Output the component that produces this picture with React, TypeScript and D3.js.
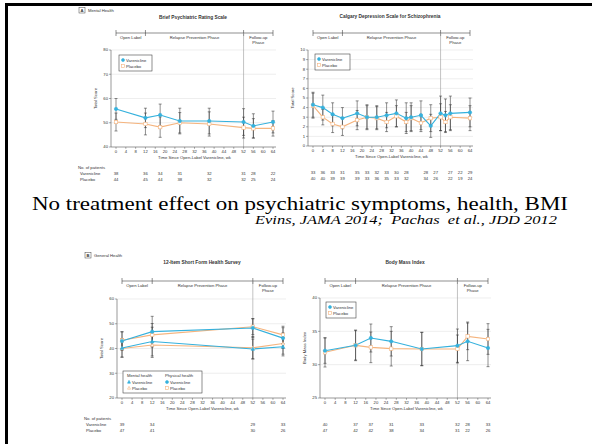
import * as d3 from "d3";

// ---- shared
const weekTicks = [0, 4, 8, 12, 16, 20, 24, 28, 32, 36, 40, 44, 48, 52, 56, 60, 64];
const phaseBounds = [0, 12, 52, 64];
const BLUE = "#35b1dd";
const ORANGE = "#f5b47e";
const FONT = "Liberation Sans, Arial, sans-serif";
const SERIF = "'Liberation Serif', 'Times New Roman', Times, 'DejaVu Serif', serif";

// ---- A: Brief Psychiatric Rating Scale
const bprsWeeks = [0, 12, 18, 26, 38, 52, 56, 64];
const bprsVar = [55.7, 52.0, 53.2, 50.7, 50.7, 50.3, 48.7, 50.3];
const bprsVarErr = [4.3, 4.0, 4.5, 5.3, 5.3, 5.5, 5.0, 4.5];
const bprsPla = [50.3, 49.5, 48.2, 50.0, 49.5, 48.0, 47.7, 47.7];
const bprsPlaErr = [3.7, 4.5, 4.2, 4.2, 5.0, 4.3, 4.0, 3.2];
const bprsNVar = [38, 36, 34, 31, 32, 31, 28, 22];
const bprsNPla = [44, 45, 44, 38, 32, 32, 25, 24];

// ---- Calgary Depression Scale for Schizophrenia
const cdssWeeks = [0, 4, 8, 12, 18, 22, 26, 30, 34, 38, 40, 44, 48, 52, 54, 56, 64];
const cdssVar = [4.3, 4.0, 3.3, 2.9, 3.4, 3.0, 3.0, 3.2, 3.4, 2.9, 3.0, 3.2, 2.1, 3.4, 3.2, 3.4, 3.5];
const cdssVarErr = [1.3, 1.3, 1.2, 1.1, 1.3, 1.3, 1.2, 1.3, 1.4, 1.6, 1.5, 1.5, 1.2, 1.8, 1.7, 1.8, 1.5];
const cdssPla = [4.2, 3.0, 2.3, 2.0, 2.7, 3.0, 2.9, 2.5, 3.1, 2.5, 2.9, 2.4, 2.9, 3.0, 2.5, 3.0, 2.9];
const cdssPlaErr = [1.3, 0.8, 0.9, 0.9, 1.0, 1.2, 1.2, 1.0, 1.1, 1.0, 1.3, 0.9, 1.4, 1.4, 1.1, 1.3, 1.3];
const cdssCountWeeks = [0, 4, 8, 12, 18, 22, 26, 30, 34, 38, 46, 50, 56, 60, 64];
const cdssNVar = [33, 36, 33, 31, 35, 33, 32, 33, 30, 28, 28, 27, 27, 22, 29];
const cdssNPla = [40, 40, 39, 39, 39, 33, 36, 35, 33, 32, 34, 26, 22, 19, 24];

// ---- B: 12-Item Short Form Health Survey
const sfWeeks = [0, 12, 52, 64];
const sfMentalVar = [40.2, 42.8, 39.8, 40.7];
const sfMentalVarErr = [3.7, 5.8, 4.0, 3.7];
const sfMentalPla = [40.0, 41.4, 40.3, 42.0];
const sfMentalPlaErr = [3.5, 5.0, 4.5, 4.3];
const sfPhysVar = [43.0, 46.8, 48.3, 44.2];
const sfPhysVarErr = [3.8, 6.2, 3.8, 4.2];
const sfPhysPla = [43.3, 45.5, 48.8, 45.5];
const sfPhysPlaErr = [3.4, 4.6, 3.2, 3.5];
const sfNVar = [39, 34, 29, 33];
const sfNPla = [47, 41, 30, 26];

// ---- Body Mass Index
const bmiWeeks = [0, 12, 18, 26, 38, 52, 56, 64];
const bmiVar = [32.1, 32.9, 34.0, 33.5, 32.35, 32.85, 33.5, 32.5];
const bmiVarErr = [1.9, 2.2, 2.1, 2.2, 2.5, 2.5, 2.9, 2.8];
const bmiPla = [31.85, 32.9, 32.6, 32.4, 32.35, 32.35, 34.25, 33.85];
const bmiPlaErr = [2.2, 2.3, 2.3, 2.6, 2.5, 2.1, 2.0, 2.3];
const bmiNVar = [40, 37, 37, 31, 33, 32, 28, 33];
const bmiNPla = [47, 42, 42, 38, 34, 31, 22, 26];

type Shape = "circle" | "square" | "triangle";
type Series = {
  weeks: number[];
  values: number[];
  errs: number[];
  color: string;
  shape: Shape;
  filled: boolean;
};

function Marker({ shape, x, y, color, filled, r = 1.7 }: { shape: Shape; x: number; y: number; color: string; filled: boolean; r?: number }) {
  const fill = filled ? color : "#fff";
  if (shape === "circle") return <circle cx={x} cy={y} r={r} fill={fill} stroke={color} strokeWidth={0.6} />;
  if (shape === "square")
    return <rect x={x - r} y={y - r} width={r * 2} height={r * 2} fill={fill} stroke={color} strokeWidth={0.6} />;
  return (
    <path
      d={`M${x},${y - r * 1.1}L${x + r},${y + r * 0.8}L${x - r},${y + r * 0.8}Z`}
      fill={fill}
      stroke={color}
      strokeWidth={0.6}
    />
  );
}

type PanelProps = {
  title: string;
  titleX: number;
  titleY: number;
  x0: number;
  x1: number;
  axisX: number;
  yTop: number;
  yBottom: number;
  yDomain: [number, number];
  yTicks: number[];
  yTitle: string;
  bracketY: number;
  series: Series[];
  countWeeks: number[];
  countVar: number[];
  countPla: number[];
  rowLabels: boolean;
  legend: React.ReactNode;
};

function Panel(p: PanelProps) {
  const x = d3.scaleLinear().domain([0, 64]).range([p.x0, p.x1]);
  const y = d3.scaleLinear().domain(p.yDomain).range([p.yBottom, p.yTop]);
  const fs = 4.2;
  const right = p.x1 + 3;
  const tickY = p.yBottom + 5.5;
  const cy = p.yBottom + 28;

  return (
    <g fontFamily={FONT} fill="#333">
      <text x={p.titleX} y={p.titleY} fontSize={4.8} fontWeight="bold" textAnchor="middle">
        {p.title}
      </text>

      {/* phase bracket */}
      <line x1={x(0)} x2={x(64)} y1={p.bracketY} y2={p.bracketY} stroke="#444" strokeWidth={0.6} />
      {phaseBounds.map((w) => (
        <line key={w} x1={x(w)} x2={x(w)} y1={p.bracketY - 3} y2={p.bracketY + 3} stroke="#444" strokeWidth={0.6} />
      ))}
      <text x={x(6)} y={p.bracketY + 6} fontSize={fs} textAnchor="middle">Open Label</text>
      <text x={x(32)} y={p.bracketY + 6} fontSize={fs} textAnchor="middle">Relapse Prevention Phase</text>
      <text x={x(58)} y={p.bracketY + 6} fontSize={fs} textAnchor="middle">Follow-up</text>
      <text x={x(58)} y={p.bracketY + 10.5} fontSize={fs} textAnchor="middle">Phase</text>

      {/* grid */}
      {p.yTicks.map((t) => (
        <g key={t}>
          {t !== p.yDomain[0] && (
            <line x1={p.axisX} x2={right} y1={y(t)} y2={y(t)} stroke="#e2e2e2" strokeWidth={0.6} />
          )}
          <line x1={p.axisX - 2} x2={p.axisX} y1={y(t)} y2={y(t)} stroke="#555" strokeWidth={0.5} />
          <text x={p.axisX - 3} y={y(t) + 1.4} fontSize={fs} textAnchor="end">
            {t}
          </text>
        </g>
      ))}
      <line x1={x(52)} x2={x(52)} y1={p.bracketY} y2={p.yBottom} stroke="#9a9a9a" strokeWidth={0.6} />
      <line x1={p.axisX} x2={p.axisX} y1={p.yTop} y2={p.yBottom} stroke="#555" strokeWidth={0.6} />
      <line x1={p.axisX} x2={right} y1={p.yBottom} y2={p.yBottom} stroke="#555" strokeWidth={0.6} />
      {weekTicks.map((w) => (
        <g key={w}>
          <line x1={x(w)} x2={x(w)} y1={p.yBottom} y2={p.yBottom + 1.8} stroke="#555" strokeWidth={0.5} />
          <text x={x(w)} y={tickY} fontSize={fs} textAnchor="middle">
            {w}
          </text>
        </g>
      ))}
      <text x={(p.x0 + p.x1) / 2} y={p.yBottom + 11.5} fontSize={fs} textAnchor="middle">
        Time Since Open-Label Varenicline, wk
      </text>
      <text
        transform={`translate(${p.axisX - 14},${(p.yTop + p.yBottom) / 2}) rotate(-90)`}
        fontSize={fs}
        textAnchor="middle"
      >
        {p.yTitle}
      </text>

      {/* series */}
      {p.series.map((s, si) => {
        const path = d3
          .line<number>()
          .x((_, i) => x(s.weeks[i]))
          .y((v) => y(v))(s.values);
        return <path key={si} d={path ?? ""} fill="none" stroke={s.color} strokeWidth={1.1} />;
      })}
      {p.series.map((s, si) => (
        <g key={si}>
          {s.values.map((v, i) => {
            const cx = x(s.weeks[i]);
            return (
              <g key={i} stroke="#333" strokeWidth={0.55}>
                <line x1={cx} x2={cx} y1={y(v - s.errs[i])} y2={y(v + s.errs[i])} />
                <line x1={cx - 1.5} x2={cx + 1.5} y1={y(v - s.errs[i])} y2={y(v - s.errs[i])} />
                <line x1={cx - 1.5} x2={cx + 1.5} y1={y(v + s.errs[i])} y2={y(v + s.errs[i])} />
              </g>
            );
          })}
        </g>
      ))}
      {p.series.map((s, si) => (
        <g key={si}>
          {s.values.map((v, i) => (
            <Marker key={i} shape={s.shape} x={x(s.weeks[i])} y={y(v)} color={s.color} filled={s.filled} />
          ))}
        </g>
      ))}

      {p.legend}

      {/* patient counts */}
      {p.rowLabels && (
        <g fontSize={fs}>
          <text x={p.axisX - 33} y={cy - 6}>No. of patients</text>
          <text x={p.axisX - 31} y={cy}>Varenicline</text>
          <text x={p.axisX - 31} y={cy + 6}>Placebo</text>
        </g>
      )}
      {p.countWeeks.map((w, i) => (
        <g key={i} fontSize={fs} textAnchor="middle">
          <text x={x(w)} y={cy}>{p.countVar[i]}</text>
          <text x={x(w)} y={cy + 6}>{p.countPla[i]}</text>
        </g>
      ))}
    </g>
  );
}

function SimpleLegend({ x, y, w }: { x: number; y: number; w: number }) {
  return (
    <g fontFamily={FONT} fontSize={4.2} fill="#333">
      <rect x={x} y={y} width={w} height={16} fill="#fff" stroke="#444" strokeWidth={0.6} />
      <Marker shape="circle" x={x + 4} y={y + 5} color={BLUE} filled r={1.5} />
      <text x={x + 7} y={y + 6.5}>Varenicline</text>
      <Marker shape="square" x={x + 4} y={y + 11} color={ORANGE} filled={false} r={1.4} />
      <text x={x + 7} y={y + 12.5}>Placebo</text>
    </g>
  );
}

function SfLegend({ x, y }: { x: number; y: number }) {
  return (
    <g fontFamily={FONT} fontSize={4.2} fill="#333">
      <rect x={x} y={y} width={79} height={22} fill="#fff" stroke="#444" strokeWidth={0.6} />
      <text x={x + 4} y={y + 6}>Mental health</text>
      <text x={x + 42} y={y + 6}>Physical health</text>
      <Marker shape="triangle" x={x + 6} y={y + 11} color={BLUE} filled r={1.5} />
      <text x={x + 9} y={y + 12.5}>Varenicline</text>
      <Marker shape="triangle" x={x + 6} y={y + 17} color={ORANGE} filled={false} r={1.5} />
      <text x={x + 9} y={y + 18.5}>Placebo</text>
      <Marker shape="circle" x={x + 44} y={y + 11} color={BLUE} filled r={1.5} />
      <text x={x + 47} y={y + 12.5}>Varenicline</text>
      <Marker shape="square" x={x + 44} y={y + 17} color={ORANGE} filled={false} r={1.4} />
      <text x={x + 47} y={y + 18.5}>Placebo</text>
    </g>
  );
}

export default function App() {
  const two = (weeks: number[], v: number[], ve: number[], pl: number[], pe: number[]): Series[] => [
    { weeks, values: pl, errs: pe, color: ORANGE, shape: "square", filled: false },
    { weeks, values: v, errs: ve, color: BLUE, shape: "circle", filled: true },
  ];
  return (
    <svg
      width={592}
      height={444}
      style={{ position: "fixed", left: 0, top: 0, background: "#fff" }}
    >
      <rect width={592} height={444} fill="#fff" />
      <rect x={5} y={3} width={587} height={3} fill="#000" />
      <rect x={5} y={3} width={3} height={441} fill="#000" />

      {/* panel letters */}
      <g fontFamily={FONT} fontSize={4.2} fill="#333">
        <rect x={79} y={7.5} width={6} height={5.5} fill="none" stroke="#444" strokeWidth={0.5} />
        <text x={82} y={12} fontWeight="bold" textAnchor="middle">A</text>
        <text x={88} y={12}>Mental Health</text>
        <rect x={85} y={252.5} width={6} height={5.5} fill="none" stroke="#444" strokeWidth={0.5} />
        <text x={88} y={257} fontWeight="bold" textAnchor="middle">B</text>
        <text x={94} y={257}>General Health</text>
      </g>

      <Panel
        title="Brief Psychiatric Rating Scale"
        titleX={193}
        titleY={19}
        x0={116}
        x1={273}
        axisX={111}
        yTop={50}
        yBottom={147}
        yDomain={[40, 80]}
        yTicks={[40, 50, 60, 70, 80]}
        yTitle="Total Score"
        bracketY={33}
        series={two(bprsWeeks, bprsVar, bprsVarErr, bprsPla, bprsPlaErr)}
        countWeeks={bprsWeeks}
        countVar={bprsNVar}
        countPla={bprsNPla}
        rowLabels
        legend={<SimpleLegend x={119} y={55} w={33} />}
      />
      <Panel
        title="Calgary Depression Scale for Schizophrenia"
        titleX={390}
        titleY={18}
        x0={313}
        x1={470}
        axisX={308}
        yTop={50}
        yBottom={146}
        yDomain={[0, 10]}
        yTicks={[0, 1, 2, 3, 4, 5, 6, 7, 8, 9, 10]}
        yTitle="Total Score"
        bracketY={33}
        series={two(cdssWeeks, cdssVar, cdssVarErr, cdssPla, cdssPlaErr)}
        countWeeks={cdssCountWeeks}
        countVar={cdssNVar}
        countPla={cdssNPla}
        rowLabels={false}
        legend={<SimpleLegend x={315} y={54} w={35} />}
      />
      <Panel
        title="12-Item Short Form Health Survey"
        titleX={202}
        titleY={264}
        x0={122}
        x1={283}
        axisX={117}
        yTop={299}
        yBottom={398}
        yDomain={[20, 60]}
        yTicks={[20, 30, 40, 50, 60]}
        yTitle="Total Score"
        bracketY={281}
        series={[
          { weeks: sfWeeks, values: sfMentalPla, errs: sfMentalPlaErr, color: ORANGE, shape: "triangle", filled: false },
          { weeks: sfWeeks, values: sfPhysPla, errs: sfPhysPlaErr, color: ORANGE, shape: "square", filled: false },
          { weeks: sfWeeks, values: sfMentalVar, errs: sfMentalVarErr, color: BLUE, shape: "triangle", filled: true },
          { weeks: sfWeeks, values: sfPhysVar, errs: sfPhysVarErr, color: BLUE, shape: "circle", filled: true },
        ]}
        countWeeks={sfWeeks}
        countVar={sfNVar}
        countPla={sfNPla}
        rowLabels
        legend={<SfLegend x={123} y={371} />}
      />
      <Panel
        title="Body Mass Index"
        titleX={405}
        titleY={264}
        x0={325}
        x1={488}
        axisX={320}
        yTop={298}
        yBottom={398}
        yDomain={[25, 40]}
        yTicks={[25, 30, 35, 40]}
        yTitle="Body Mass Index"
        bracketY={281}
        series={two(bmiWeeks, bmiVar, bmiVarErr, bmiPla, bmiPlaErr)}
        countWeeks={bmiWeeks}
        countVar={bmiNVar}
        countPla={bmiNPla}
        rowLabels={false}
        legend={<SimpleLegend x={326} y={302} w={30} />}
      />

      <text
        x={32}
        y={210}
        fontFamily={SERIF}
        fontSize={18}
        fill="#000"
        textLength={536}
        lengthAdjust="spacingAndGlyphs"
      >
        No treatment effect on psychiatric symptoms, health, BMI
      </text>
      <text
        x={255}
        y={224}
        fontFamily={SERIF}
        fontSize={12.5}
        fontStyle="italic"
        fill="#000"
        textLength={302}
        lengthAdjust="spacingAndGlyphs"
        style={{ whiteSpace: "pre" }}
      >
        {"Evins, JAMA 2014;  Pachas  et al., JDD 2012"}
      </text>
    </svg>
  );
}
